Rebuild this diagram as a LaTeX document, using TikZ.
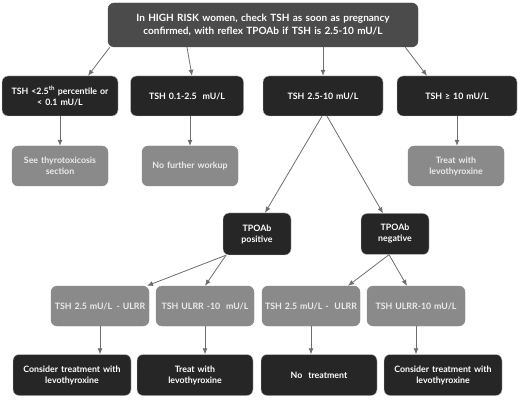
\documentclass[tikz,border=0pt]{standalone}
\usepackage{fontspec}
\setmainfont{Lato}
\usepackage{tikz}
\usetikzlibrary{arrows.meta,positioning,calc}
\definecolor{thtopfill}{HTML}{4B4B4B}
\definecolor{thdarkfill}{HTML}{262626}
\definecolor{thgrayfill}{HTML}{8A8A8A}
\definecolor{tharrow}{HTML}{6E6E6E}
\tikzset{
thbase/.style={rectangle,rounded corners=6pt,align=center,inner sep=2pt,text=white,font=\bfseries\fontsize{8.8}{11}\selectfont},
thtop/.style={thbase,fill=thtopfill,draw=thtopfill,minimum width=310pt,minimum height=44pt,text width=304pt,font=\bfseries\fontsize{10}{13}\selectfont},
thdark/.style={thbase,fill=thdarkfill,draw=gray!45,minimum height=40pt},
thgray/.style={thbase,fill=thgrayfill,draw=thgrayfill,text=white!92!black,minimum height=40pt},
tharr/.style={-{Latex[length=6pt,width=5pt]},draw=tharrow,line width=0.8pt}
}
\begin{document}
\begin{tikzpicture}[
x=1pt,
y=-1pt
]
\useasboundingbox (0,0) rectangle (520,401);
\node[thtop] (screen) at (263,25) {In HIGH RISK women, check TSH as soon as pregnancy\\confirmed, with reflex TPOAb if TSH is 2.5-10 mU/L};
\node[thdark,minimum width=116pt,text width=112pt] (low) at (60,96) {TSH <2.5\textsuperscript{th} percentile or\\< 0.1 mU/L};
\node[thdark,minimum width=113pt,text width=108pt] (normal) at (187,96) {TSH 0.1-2.5 \ mU/L};
\node[thdark,minimum width=120pt,text width=114pt] (mid) at (323,96) {TSH 2.5-10 mU/L};
\node[thdark,minimum width=120pt,text width=114pt] (high) at (457,96) {TSH ≥ 10 mU/L};
\node[thgray,minimum width=95pt,text width=92pt] (thyro) at (60,166) {See thyrotoxicosis\\section};
\node[thgray,minimum width=95pt,text width=92pt] (nowork) at (190,166) {No further workup};
\node[thgray,minimum width=96pt,text width=92pt] (treathigh) at (456,166) {Treat with\\levothyroxine};
\node[thdark,minimum width=68pt,minimum height=42pt,text width=64pt] (pos) at (257,234) {TPOAb\\positive};
\node[thdark,minimum width=67pt,minimum height=41pt,text width=64pt] (neg) at (395,234) {TPOAb\\negative};
\node[thgray,minimum width=96pt,text width=94pt] (posa) at (100,306) {TSH 2.5 mU/L \,- ULRR};
\node[thgray,minimum width=96pt,text width=94pt] (posb) at (205,306) {TSH ULRR -10 \ mU/L};
\node[thgray,minimum width=96pt,text width=94pt] (nega) at (311,306) {TSH 2.5 mU/L - \ ULRR};
\node[thgray,minimum width=96pt,text width=94pt] (negb) at (416,306) {TSH ULRR-10 mU/L};
\node[thdark,minimum width=117pt,minimum height=41pt,text width=114pt] (consa) at (72,375) {Consider treatment with\\levothyroxine};
\node[thdark,minimum width=115pt,minimum height=41pt,text width=112pt] (treatpos) at (195,375) {Treat with\\levothyroxine};
\node[thdark,minimum width=116pt,minimum height=41pt,text width=112pt] (notreat) at (319,375) {No \ treatment};
\node[thdark,minimum width=116pt,minimum height=41pt,text width=114pt] (consb) at (443,375) {Consider treatment with\\levothyroxine};
\coordinate (posout) at ($(pos.south)+(-31pt,0)$);
\coordinate (negout) at ($(neg.south)+(-6pt,0)$);
\draw[tharr] ($(screen.south west)+(2pt,0)$)--($(low.north)+(28pt,0)$);
\draw[tharr] (normal.north|-screen.south)--($(normal.north)+(5pt,0)$);
\draw[tharr] (mid.north|-screen.south)--(mid.north);
\draw[tharr] ($(screen.south east)+(-13pt,0)$)--($(high.north)+(-30pt,0)$);
\draw[tharr] (low)--(low|-thyro.north);
\draw[tharr] ($(normal.south)+(3pt,0)$)--(nowork.north);
\draw[tharr] (high)--(high|-treathigh.north);
\draw[tharr] ($(mid.south)+(-1pt,0)$)--($(pos.north)+(8pt,0)$);
\draw[tharr] ($(mid.south)+(4pt,0)$)--($(neg.north)+(-12pt,0)$);
\draw[tharr] (posout)--($(posa.north)+(47pt,0)$);
\draw[tharr] (posout)--(posb.north);
\draw[tharr] (negout)--($(nega.north)+(37pt,0)$);
\draw[tharr] (negout)--($(negb.north)+(-9pt,0)$);
\draw[tharr] (posa)--(posa|-consa.north);
\draw[tharr] (posb)--(posb|-treatpos.north);
\draw[tharr] (nega)--(nega|-notreat.north);
\draw[tharr] (negb)--(negb|-consb.north);
\end{tikzpicture}
\end{document}
